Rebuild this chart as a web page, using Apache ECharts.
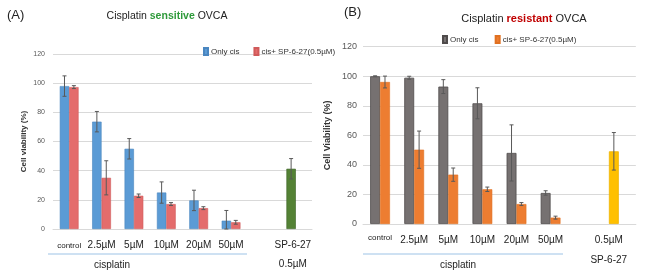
<!DOCTYPE html>
<html>
<head>
<meta charset="utf-8">
<script src="https://cdn.jsdelivr.net/npm/echarts@6/dist/echarts.min.js"></script>
<style>
  html, body { margin: 0; padding: 0; background: #fff; }
  #main { width: 650px; height: 274px; }
</style>
</head>
<body>
<div id="main"></div>
<script>
// categories (7th slot is the empty gap before the SP-6-27 bar)
var catsA = ['control', '2.5µM', '5µM', '10µM', '20µM', '50µM', '', 'SP-6-27\n0.5µM']
var catsB = ['control', '2.5µM', '5µM', '10µM', '20µM', '50µM', '', '0.5µM\nSP-6-27']

// panel A - cisplatin sensitive
var onlyCisA = [98, 73.6, 55, 25, 19.6, 5.7]
var onlyCisErrA = [7, 7, 7, 7.3, 7, 7]
var comboA = [97.3, 35.1, 22.8, 17.1, 14.3, 4.6]
var comboErrA = [1, 11.7, 1.2, 1, 1, 1.3]
var spA = 41.3
var spErrA = 7

// panel B - cisplatin resistant
var onlyCisB = [100, 99, 93, 81.7, 48.1, 21]
var onlyCisErrB = [0.3, 1, 4.7, 10.5, 19, 1.5]
var comboB = [96.1, 50.3, 33.4, 23.5, 13.5, 4.3]
var comboErrB = [4, 12.6, 4.5, 1.5, 1, 1]
var spB = 49.2
var spErrB = 12.7

var yTicks = [0, 20, 40, 60, 80, 100, 120]

var FONT = "'Liberation Sans Narrow', 'Liberation Sans', Arial, sans-serif"
var GAP = 0.42

var chart = echarts.init(document.getElementById('main'))

function barData(vals, spVal, spColor, spBorder) {
    var d = vals.slice()
    d.push('-')
    if (spVal != null) {
        d.push({ value: spVal, itemStyle: { color: spColor, borderColor: spBorder } })
    } else {
        d.push('-')
    }
    return d
}

function errData(vals, errs, spVal, spErr) {
    var d = vals.map(function (v, i) { return [i, v, errs[i]] })
    if (spVal != null) d.push([7, spVal, spErr])
    return d
}

function errSeries(idx, data, side) {
    return {
        type: 'custom',
        xAxisIndex: idx,
        yAxisIndex: idx,
        z: 5,
        silent: true,
        data: data,
        encode: { x: 0, y: 1 },
        renderItem: function (params, api) {
            var i = api.value(0), v = api.value(1), e = api.value(2)
            var band = api.size([1, 0])[0]
            var bw = band * (1 - GAP) / 2
            var x = api.coord([i, v])[0] + side * bw / 2
            var y1 = api.coord([i, v + e])[1]
            var y2 = api.coord([i, Math.max(v - e, 0)])[1]
            var st = { stroke: '#595959', lineWidth: 1 }
            return {
                type: 'group',
                children: [
                    { type: 'line', shape: { x1: x, y1: y1, x2: x, y2: y2 }, style: st },
                    { type: 'line', shape: { x1: x - 2, y1: y1, x2: x + 2, y2: y1 }, style: st },
                    { type: 'line', shape: { x1: x - 2, y1: y2, x2: x + 2, y2: y2 }, style: st }
                ]
            }
        }
    }
}

function xAxis(idx, cats, labelSize, lh, margin, spPad, ctrlPad) {
    return {
        type: 'category',
        gridIndex: idx,
        data: cats,
        axisTick: { show: false },
        axisLine: { lineStyle: { color: '#d9d9d9' } },
        axisLabel: {
            interval: 0,
            margin: margin,
            color: '#222',
            fontFamily: FONT,
            fontSize: labelSize,
            lineHeight: lh,
            formatter: function (v) {
                if (v === 'control') return '{c|control}'
                if (v.indexOf('\n') >= 0) {
                    return v.split('\n').map(function (s) { return '{sp|' + s + '}' }).join('\n')
                }
                return v
            },
            rich: {
                c: { fontSize: labelSize - 2, fontFamily: FONT, color: '#222', lineHeight: lh, padding: [0, 0, ctrlPad, 0] },
                sp: { fontSize: labelSize, fontFamily: FONT, color: '#222', lineHeight: lh, padding: [0, spPad, 0, 0] }
            }
        }
    }
}

function yAxis(idx, name, labelSize, nameGap, margin, nameSize, namePad) {
    return {
        type: 'value',
        gridIndex: idx,
        min: 0,
        max: 120,
        interval: 20,
        name: name,
        nameLocation: 'middle',
        nameGap: nameGap,
        nameTextStyle: { fontFamily: FONT, fontSize: nameSize, fontWeight: 'bold', color: '#333', padding: namePad },
        axisLine: { show: false },
        axisTick: { show: false },
        axisLabel: {
            margin: margin,
            color: '#595959',
            fontFamily: FONT,
            fontSize: labelSize,
            formatter: function (v) { return yTicks.indexOf(v) >= 0 ? v : '' }
        },
        splitLine: { lineStyle: { color: '#d9d9d9' } }
    }
}

var option = {
    animation: false,
    backgroundColor: '#fff',
    title: [
        {
            text: '{a|Cisplatin }{g|sensitive}{a| OVCA}',
            left: 162, top: 6, textAlign: 'center',
            textStyle: {
                rich: {
                    a: { fontFamily: FONT, fontSize: 10.5, color: '#222', fontWeight: 'normal' },
                    g: { fontFamily: FONT, fontSize: 10.5, color: '#2e9a3a', fontWeight: 'bold' }
                }
            }
        },
        {
            text: '{a|Cisplatin }{r|resistant}{a| OVCA}',
            left: 519, top: 8, textAlign: 'center',
            textStyle: {
                rich: {
                    a: { fontFamily: FONT, fontSize: 11, color: '#222', fontWeight: 'normal' },
                    r: { fontFamily: FONT, fontSize: 11, color: '#c00000', fontWeight: 'bold' }
                }
            }
        },
        { text: '(A)', left: 2, top: 4, textStyle: { fontFamily: FONT, fontSize: 13, fontWeight: 'normal', color: '#222' } },
        { text: '(B)', left: 339, top: 1, textStyle: { fontFamily: FONT, fontSize: 13, fontWeight: 'normal', color: '#222' } }
    ],
    legend: [
        {
            data: ['Only cis', 'cis+ SP-6-27(0.5µM)'],
            left: 198, top: 42,
            itemWidth: 4, itemHeight: 7, itemGap: 14,
            icon: 'rect',
            textStyle: { fontFamily: FONT, fontSize: 8, color: '#333', padding: [0, 0, 0, -2] }
        },
        {
            data: ['Only cis ', 'cis+ SP-6-27(0.5µM) '],
            left: 437, top: 30,
            itemWidth: 4, itemHeight: 7, itemGap: 14,
            icon: 'rect',
            textStyle: { fontFamily: FONT, fontSize: 8, color: '#333', padding: [0, 0, 0, -2] }
        }
    ],
    grid: [
        { left: 53, right: 338, top: 54, bottom: 44.3 },
        { left: 363, right: 12, top: 46.7, bottom: 50 }
    ],
    xAxis: [
        xAxis(0, catsA, 10, 19, 7, 6, 0),
        xAxis(1, catsB, 10, 20, 6, 20, 4)
    ],
    yAxis: [
        yAxis(0, 'Cell viability (%)', 7, 25, 8, 8, [0, 0, 0, 0]),
        yAxis(1, 'Cell Viability (%)', 9, 31, 6, 9, [0, 0, 0, 0])
    ],
    graphic: [
        { type: 'line', shape: { x1: 48, y1: 254, x2: 247, y2: 254 }, style: { stroke: '#9dc3e6', lineWidth: 1 } },
        { type: 'line', shape: { x1: 363, y1: 254, x2: 563, y2: 254 }, style: { stroke: '#9dc3e6', lineWidth: 1 } },
        { type: 'text', x: 112, y: 265, style: { text: 'cisplatin', fontFamily: FONT, fontSize: 10, fill: '#222', textAlign: 'center', textVerticalAlign: 'middle' } },
        { type: 'text', x: 458, y: 265, style: { text: 'cisplatin', fontFamily: FONT, fontSize: 10, fill: '#222', textAlign: 'center', textVerticalAlign: 'middle' } }
    ],
    series: [
        {
            name: 'Only cis', type: 'bar', xAxisIndex: 0, yAxisIndex: 0,
            barGap: 0, barCategoryGap: (GAP * 100) + '%',
            itemStyle: { color: '#5b9bd5', borderColor: '#4a86c0', borderWidth: 0.6 },
            data: barData(onlyCisA, spA, '#548235', '#3b6123')
        },
        {
            name: 'cis+ SP-6-27(0.5µM)', type: 'bar', xAxisIndex: 0, yAxisIndex: 0,
            barGap: 0, barCategoryGap: (GAP * 100) + '%',
            itemStyle: { color: '#e46c6c', borderColor: '#d05a5a', borderWidth: 0.6 },
            data: barData(comboA, null)
        },
        {
            name: 'Only cis ', type: 'bar', xAxisIndex: 1, yAxisIndex: 1,
            barGap: 0, barCategoryGap: (GAP * 100) + '%',
            itemStyle: { color: '#767171', borderColor: '#4f4b4b', borderWidth: 0.8 },
            data: barData(onlyCisB, spB, '#ffc000', '#f0b400')
        },
        {
            name: 'cis+ SP-6-27(0.5µM) ', type: 'bar', xAxisIndex: 1, yAxisIndex: 1,
            barGap: 0, barCategoryGap: (GAP * 100) + '%',
            itemStyle: { color: '#ed7d31', borderColor: '#e07020', borderWidth: 0.6 },
            data: barData(comboB, null)
        },
        errSeries(0, errData(onlyCisA, onlyCisErrA, spA, spErrA), -1),
        errSeries(0, errData(comboA, comboErrA), 1),
        errSeries(1, errData(onlyCisB, onlyCisErrB, spB, spErrB), -1),
        errSeries(1, errData(comboB, comboErrB), 1)
    ]
}

chart.setOption(option)
</script>
</body>
</html>
